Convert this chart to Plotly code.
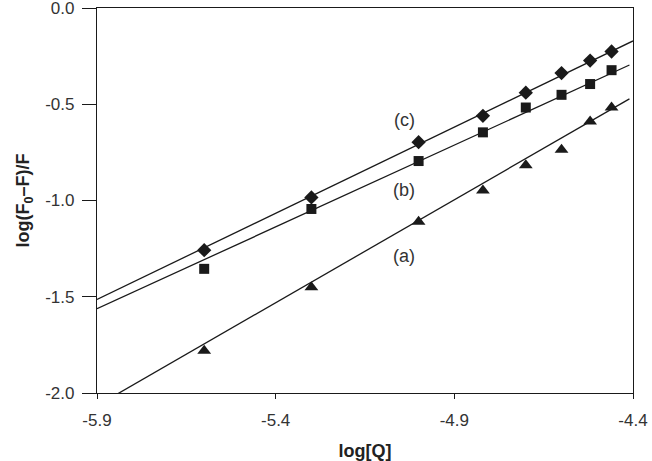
import plotly.graph_objects as go

# x values: log[Q]
log_q = [-5.60, -5.30, -5.00, -4.82, -4.70, -4.60, -4.52, -4.46]

# series values: log((F0-F)/F)
series_a = [-1.78, -1.45, -1.11, -0.948, -0.817, -0.736, -0.589, -0.517]
series_b = [-1.355, -1.044, -0.795, -0.646, -0.517, -0.451, -0.395, -0.323]
series_c = [-1.258, -0.984, -0.697, -0.560, -0.440, -0.338, -0.273, -0.226]

# fitted lines (end points)
line_a_x = [-5.90, -4.41]
line_a_y = [-2.066, -0.472]
line_b_x = [-5.90, -4.41]
line_b_y = [-1.562, -0.296]
line_c_x = [-5.90, -4.40]
line_c_y = [-1.514, -0.171]

labels = ["(c)", "(b)", "(a)"]
label_x = [-5.04, -5.04, -5.04]
label_y = [-0.583, -0.948, -1.29]

x_ticks = [-5.9, -5.4, -4.9, -4.4]
y_ticks = [0.0, -0.5, -1.0, -1.5, -2.0]

ink = "#1a1a1a"
fig = go.Figure()

for lx, ly in [(line_a_x, line_a_y), (line_b_x, line_b_y), (line_c_x, line_c_y)]:
    fig.add_trace(go.Scatter(x=lx, y=ly, mode="lines",
                             line=dict(color=ink, width=1.3), showlegend=False,
                             hoverinfo="skip"))

fig.add_trace(go.Scatter(x=log_q, y=series_a, mode="markers", showlegend=False,
                         marker=dict(symbol="triangle-up", size=12, color=ink)))
fig.add_trace(go.Scatter(x=log_q, y=series_b, mode="markers", showlegend=False,
                         marker=dict(symbol="square", size=10, color=ink)))
fig.add_trace(go.Scatter(x=log_q, y=series_c, mode="markers", showlegend=False,
                         marker=dict(symbol="diamond", size=11, color=ink)))

for t, x, y in zip(labels, label_x, label_y):
    fig.add_annotation(x=x, y=y, text=t, showarrow=False,
                       font=dict(family="Liberation Sans", size=18, color="#333"))

fig.update_layout(
    width=652, height=461,
    margin=dict(l=97, r=19, t=8, b=68),
    paper_bgcolor="white", plot_bgcolor="white",
    font=dict(family="Liberation Sans", size=17, color="#333"),
)
fig.update_xaxes(
    range=[-5.9, -4.4], tickvals=x_ticks, ticktext=[f"{v:.1f}" for v in x_ticks],
    showgrid=False, zeroline=False, showline=True, linecolor=ink, linewidth=1.3,
    mirror=True, ticks="outside", ticklen=5, tickcolor=ink, tickwidth=1.3,
    tickfont=dict(size=17, color="#333"), automargin=False, ticklabeloverflow="allow",
    ticklabelstandoff=6,
    title=dict(text="<b>log[Q]</b>", font=dict(size=18, color="#222"), standoff=15),
)
fig.update_yaxes(
    range=[-2.0, 0.0], tickvals=y_ticks, ticktext=[f"{v:.1f}" for v in y_ticks],
    showgrid=False, zeroline=False, showline=True, linecolor=ink, linewidth=1.3,
    mirror=True, ticks="outside", ticklen=14, tickcolor=ink, tickwidth=1.3,
    tickfont=dict(size=17, color="#333"), automargin=False, ticklabeloverflow="allow",
    ticklabelstandoff=4,
    title=dict(text="<b>log(F<sub>0</sub>\u2013F)/F</b>", font=dict(size=18, color="#222"), standoff=10),
)

fig.write_html("out.html", config={"displayModeBar": False},
               post_script="document.body.style.margin='0';")
